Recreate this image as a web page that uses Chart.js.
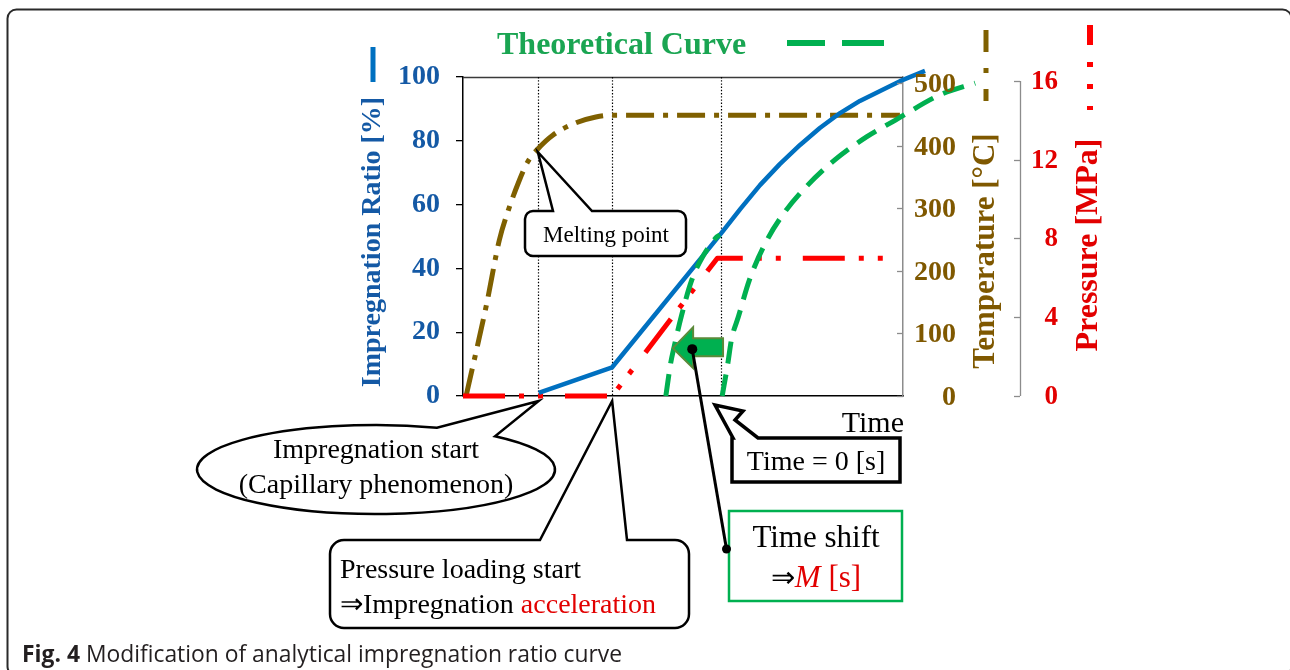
<!DOCTYPE html>
<html>
<head>
<meta charset="utf-8">
<title>Modification of analytical impregnation ratio curve</title>
<script src="https://cdn.jsdelivr.net/npm/chart.js@4.4.1/dist/chart.umd.min.js"></script>
<style>
  html, body { margin: 0; padding: 0; background: #fff; }
  canvas { display: block; }
</style>
</head>
<body>
<canvas id="fig" width="1290" height="670"></canvas>
<script>
// Time is in arbitrary units: 0–100 spans the plotting frame.
const impregTime  = [17.2, 33.9, 58.4, 63.0, 67.5, 72.0, 76.6, 81.1, 85.7, 90.2, 94.8, 99.3, 105.0];
const impregRatio = [1.0, 9.0, 50.5, 58.6, 66.1, 72.7, 78.7, 84.0, 88.7, 92.5, 95.6, 98.7, 101.9];

const tempTime    = [0.7, 5.4, 8.25, 10.3, 12.7, 14.75, 17.0, 20.4, 25.4, 30.2, 34.0, 99.3];
const temperature = [0, 148, 249, 297, 343, 375, 395, 417, 436, 446, 449, 449];

const pressTime = [0, 33.9, 57.8, 97.0];
const pressure  = [0, 0, 7, 7];

// Theoretical impregnation curve (starting at time = 0) and the same curve moved back by M
const theoryTime   = [58.9, 60.2, 61.0, 62.6, 65.1, 69.1, 73.2, 78.0, 84.5, 91.8, 98.3, 108.4, 116.4];
const theoryRatio  = [0, 10.3, 17.6, 24.9, 36.4, 48.9, 57.8, 65.6, 74.0, 81.3, 86.5, 94.4, 98.1];
const shiftedTime  = [46.1, 47.2, 48.0, 49.6, 52.0, 54.5, 57.7, 58.4];
const shiftedRatio = [0, 10.3, 15.5, 24.9, 36.4, 43.7, 49.9, 50.5];

const ratioTicks = [0, 20, 40, 60, 80, 100];
const tempTicks  = [0, 100, 200, 300, 400, 500];
const pressTicks = [0, 4, 8, 12, 16];

// melting point, pressure loading start, full pressure (time = 0)
const eventTimes = [17.0, 33.9, 58.6];

const SERIF = "'Liberation Serif', 'Times New Roman', serif";
const BLUE = '#0070C0', BLUE_TXT = '#1459A5';
const BROWN = '#7F6000', BROWN_TXT = '#7F5800';
const RED = '#FF0000', RED_TXT = '#E20000';
const GREEN = '#00B050', GREEN_TXT = '#1AA552';

const pts = (xs, ys) => xs.map((v, i) => ({ x: v, y: ys[i] }));
const fixTicks = list => scale => { scale.ticks = list.map(v => ({ value: v })); };

function vText(ctx, s, cx, cy, font, color) {
  ctx.save();
  ctx.translate(cx, cy);
  ctx.rotate(-Math.PI / 2);
  ctx.font = font; ctx.fillStyle = color;
  ctx.textAlign = 'center'; ctx.textBaseline = 'middle';
  ctx.fillText(s, 0, 0);
  ctx.restore();
}

function seg(ctx, x0, y0, x1, y1) {
  ctx.beginPath(); ctx.moveTo(x0, y0); ctx.lineTo(x1, y1); ctx.stroke();
}

// Box whose top edge opens into a pointer (wedge = points between the two base points)
function boxCallout(ctx, x0, y0, x1, y1, r, b1, wedge, b2) {
  ctx.beginPath();
  ctx.moveTo(x0 + r, y0);
  ctx.lineTo(b1, y0);
  wedge.forEach(p => ctx.lineTo(p[0], p[1]));
  ctx.lineTo(b2, y0);
  ctx.lineTo(x1 - r, y0);
  if (r) ctx.arcTo(x1, y0, x1, y0 + r, r);
  ctx.lineTo(x1, y1 - r);
  if (r) ctx.arcTo(x1, y1, x1 - r, y1, r);
  ctx.lineTo(x0 + r, y1);
  if (r) ctx.arcTo(x0, y1, x0, y1 - r, r);
  ctx.lineTo(x0, y0 + r);
  if (r) ctx.arcTo(x0, y0, x0 + r, y0, r);
  ctx.closePath();
  ctx.fillStyle = '#fff';
  ctx.fill();
  ctx.stroke();
}

function ellipseCallout(ctx, cx, cy, rx, ry, b1x, b2x, tipX, tipY) {
  const a1 = -Math.acos((b1x - cx) / rx);
  const a2 = -Math.acos((b2x - cx) / rx);
  ctx.beginPath();
  ctx.ellipse(cx, cy, rx, ry, 0, a2, a1 + 2 * Math.PI);
  ctx.lineTo(tipX, tipY);
  ctx.closePath();
  ctx.fillStyle = '#fff';
  ctx.fill();
  ctx.stroke();
}

// Draws a run of differently styled pieces on one baseline
function runs(ctx, pieces, x, y, align) {
  const widths = pieces.map(p => { ctx.font = p.font; return ctx.measureText(p.text).width; });
  const total = widths.reduce((a, b) => a + b, 0);
  let cx = align === 'center' ? x - total / 2 : x;
  ctx.textAlign = 'left'; ctx.textBaseline = 'alphabetic';
  pieces.forEach((p, i) => {
    ctx.font = p.font; ctx.fillStyle = p.color;
    ctx.fillText(p.text, cx, y);
    cx += widths[i];
  });
}

// Right-hand axes: inward tick marks and right-aligned labels
function rightAxis(ctx, scale, values, labelRight, font, color, withLine) {
  ctx.strokeStyle = '#8c8c8c'; ctx.lineWidth = 1.3;
  if (withLine) {
    const top = scale.getPixelForValue(values[values.length - 1]);
    const bottom = scale.getPixelForValue(values[0]);
    seg(ctx, scale.left + 0.5, top, scale.left + 0.5, bottom);
  }
  ctx.font = font; ctx.fillStyle = color;
  ctx.textAlign = 'right'; ctx.textBaseline = 'middle';
  values.forEach(v => {
    const py = Math.round(scale.getPixelForValue(v)) + 0.5;
    seg(ctx, scale.left - 6, py, scale.left, py);
    ctx.fillText(String(v), labelRight, py + 1);
  });
}

const decorations = {
  id: 'decorations',
  beforeDatasetsDraw(chart) {
    const { ctx, chartArea: a, scales: { x } } = chart;
    ctx.save();
    // top edge of the plotting frame
    ctx.strokeStyle = '#3a3a3a'; ctx.lineWidth = 1.3;
    seg(ctx, a.left, a.top + 0.5, a.right, a.top + 0.5);
    // dotted event lines
    ctx.strokeStyle = '#000'; ctx.lineWidth = 1.2; ctx.setLineDash([1.4, 1.8]);
    eventTimes.forEach(t => {
      const px = Math.round(x.getPixelForValue(t)) + 0.5;
      seg(ctx, px, a.top, px, a.bottom);
    });
    ctx.restore();
  },
  afterDraw(chart) {
    const { ctx, chartArea: a, scales: { x, y, yT, yP } } = chart;
    ctx.save();

    rightAxis(ctx, yT, tempTicks, 956, `bold 28px ${SERIF}`, BROWN_TXT, false);
    rightAxis(ctx, yP, pressTicks, 1058, `bold 27px ${SERIF}`, RED_TXT, true);

    // axis titles
    vText(ctx, 'Impregnation Ratio [%]', 373, 242, `bold 28px ${SERIF}`, BLUE_TXT);
    vText(ctx, 'Temperature [°C]', 986, 251, `bold 31px ${SERIF}`, BROWN_TXT);
    vText(ctx, 'Pressure [MPa]', 1089, 245, `bold 32px ${SERIF}`, RED_TXT);
    ctx.font = `30px ${SERIF}`; ctx.fillStyle = '#000';
    ctx.textAlign = 'right'; ctx.textBaseline = 'alphabetic';
    ctx.fillText('Time', a.right + 1, 432);

    // legend keys drawn as short line samples
    ctx.lineCap = 'butt';
    ctx.strokeStyle = BLUE; ctx.lineWidth = 5;
    seg(ctx, 373, 47, 373, 82);
    ctx.strokeStyle = BROWN; ctx.setLineDash([22, 16, 5, 16]);
    seg(ctx, 986, 30, 986, 101);
    ctx.strokeStyle = RED; ctx.lineWidth = 6; ctx.setLineDash([20, 17, 5, 17, 5, 17]);
    seg(ctx, 1090, 25, 1090, 110);
    ctx.setLineDash([]);
    ctx.strokeStyle = GREEN; ctx.lineWidth = 6;
    seg(ctx, 787, 43, 825, 43);
    seg(ctx, 842, 43, 884, 43);
    ctx.font = `bold 32px ${SERIF}`; ctx.fillStyle = GREEN_TXT; ctx.textAlign = 'left';
    ctx.fillText('Theoretical Curve', 497, 54);

    // callouts
    ctx.strokeStyle = '#000'; ctx.lineJoin = 'miter';

    const meltX = x.getPixelForValue(tempTime[6]);
    const meltY = yT.getPixelForValue(temperature[6]) + 3;
    ctx.lineWidth = 2.5;
    boxCallout(ctx, 525, 211, 686, 256, 8, 553, [[meltX, meltY]], 592);
    ctx.font = `23px ${SERIF}`; ctx.fillStyle = '#000'; ctx.textAlign = 'center';
    ctx.fillText('Melting point', 606, 242);

    const startX = x.getPixelForValue(impregTime[0]);
    ellipseCallout(ctx, 376, 469.5, 179, 44.5, 437, 495, startX, y.getPixelForValue(0) + 5);
    ctx.font = `28px ${SERIF}`; ctx.fillStyle = '#000'; ctx.textAlign = 'center';
    ctx.fillText('Impregnation start', 376, 458);
    ctx.fillText('(Capillary phenomenon)', 376, 493);

    const loadX = x.getPixelForValue(pressTime[1]);
    boxCallout(ctx, 330, 540, 689, 628, 14, 540, [[loadX, y.getPixelForValue(0) + 5]], 627);
    runs(ctx, [{ text: 'Pressure loading start', font: `28px ${SERIF}`, color: '#000' }], 340, 578, 'left');
    runs(ctx, [
      { text: '\u21D2Impregnation ', font: `28px ${SERIF}`, color: '#000' },
      { text: 'acceleration', font: `28px ${SERIF}`, color: RED_TXT }
    ], 340, 613, 'left');

    ctx.lineWidth = 3.5;
    boxCallout(ctx, 732, 438, 900, 482, 0, 733, [[715, 405], [743, 411], [735, 420]], 758);
    ctx.font = `28px ${SERIF}`; ctx.fillStyle = '#000'; ctx.textAlign = 'center';
    ctx.fillText('Time = 0 [s]', 816, 470);

    ctx.strokeStyle = GREEN; ctx.lineWidth = 2.5;
    ctx.fillStyle = '#fff';
    ctx.beginPath(); ctx.rect(729, 511, 173, 90); ctx.fill(); ctx.stroke();
    ctx.font = `31px ${SERIF}`; ctx.fillStyle = '#000'; ctx.textAlign = 'center';
    ctx.fillText('Time shift', 816, 547);
    runs(ctx, [
      { text: '\u21D2', font: `29px ${SERIF}`, color: '#000' },
      { text: 'M', font: `italic 31px ${SERIF}`, color: RED_TXT },
      { text: ' [s]', font: `31px ${SERIF}`, color: RED_TXT }
    ], 816, 587, 'center');

    // block arrow marking the time shift
    const ay = y.getPixelForValue(15);
    const tipX = x.getPixelForValue(47.7), headX = x.getPixelForValue(52.3), tailX = x.getPixelForValue(59.1);
    ctx.beginPath();
    ctx.moveTo(tipX, ay);
    ctx.lineTo(headX, ay - 21);
    ctx.lineTo(headX, ay - 10);
    ctx.lineTo(tailX, ay - 10);
    ctx.lineTo(tailX, ay + 8);
    ctx.lineTo(headX, ay + 8);
    ctx.lineTo(headX, ay + 20);
    ctx.closePath();
    ctx.fillStyle = GREEN; ctx.fill();
    ctx.strokeStyle = '#5B8A3A'; ctx.lineWidth = 2; ctx.stroke();

    const dotX = x.getPixelForValue(52.1);
    ctx.strokeStyle = '#000'; ctx.lineWidth = 3;
    seg(ctx, dotX, ay + 1, 726.5, 549);
    ctx.fillStyle = '#000';
    ctx.beginPath(); ctx.arc(dotX, ay + 1, 5, 0, 2 * Math.PI); ctx.fill();
    ctx.beginPath(); ctx.arc(726.5, 549, 4.5, 0, 2 * Math.PI); ctx.fill();

    // figure caption
    const capBold = 'Fig. 4', capRest = ' Modification of analytical impregnation ratio curve';
    const family = "'Open Sans', 'Noto Sans', sans-serif";
    ctx.font = `bold 20px ${family}`; const wb = ctx.measureText(capBold).width;
    ctx.font = `20px ${family}`; const wr = ctx.measureText(capRest).width;
    const size = 20 * 600 / (wb + wr);
    runs(ctx, [
      { text: capBold, font: `bold ${size.toFixed(2)}px ${family}`, color: '#231F20' },
      { text: capRest, font: `${size.toFixed(2)}px ${family}`, color: '#231F20' }
    ], 22, 662, 'left');

    // outer panel
    ctx.strokeStyle = '#2a2a2a'; ctx.lineWidth = 2;
    ctx.beginPath();
    ctx.roundRect(7.5, 9.5, 1284, 666, 9);
    ctx.stroke();

    ctx.restore();
  }
};

new Chart(document.getElementById('fig'), {
  type: 'line',
  data: {
    datasets: [
      { label: 'Theoretical curve (shifted)', data: pts(shiftedTime, shiftedRatio), yAxisID: 'y',
        borderColor: GREEN, borderWidth: 5, borderDash: [22, 11], cubicInterpolationMode: 'monotone' },
      { label: 'Theoretical curve', data: pts(theoryTime, theoryRatio), yAxisID: 'y',
        borderColor: GREEN, borderWidth: 5, borderDash: [22, 11], cubicInterpolationMode: 'monotone' },
      { label: 'Impregnation ratio', data: pts(impregTime, impregRatio), yAxisID: 'y',
        borderColor: BLUE, borderWidth: 4.5, tension: 0 },
      { label: 'Pressure', data: pts(pressTime, pressure), yAxisID: 'yP',
        borderColor: RED, borderWidth: 5, borderDash: [42, 14, 5, 14, 5, 22], tension: 0 },
      { label: 'Temperature', data: pts(tempTime, temperature), yAxisID: 'yT',
        borderColor: BROWN, borderWidth: 5, borderDash: [28, 9, 5, 9], cubicInterpolationMode: 'monotone' }
    ]
  },
  options: {
    responsive: false,
    animation: false,
    devicePixelRatio: 1,
    layout: { padding: { top: 77, left: 0, right: 0, bottom: 0 } },
    elements: { point: { radius: 0, hoverRadius: 0 }, line: { fill: false, borderCapStyle: 'butt', borderJoinStyle: 'round' } },
    datasets: { line: { clip: false } },
    plugins: { legend: { display: false }, tooltip: { enabled: false }, title: { display: false } },
    scales: {
      x: {
        type: 'linear',
        // range fixed after the data limits so that curves running past the frame are still drawn
        afterDataLimits: s => { s.min = 0; s.max = 100; },
        ticks: { display: false },
        grid: { display: false },
        border: { color: '#000', width: 1.5 },
        afterFit: s => { s.height = 274; }
      },
      y: {
        position: 'left', min: 0, max: 100,
        afterBuildTicks: fixTicks(ratioTicks),
        ticks: { color: BLUE_TXT, padding: 16, font: { family: SERIF, weight: 'bold', size: 28 } },
        grid: { drawOnChartArea: false, drawTicks: true, tickLength: 7, color: '#000', lineWidth: 1.3 },
        border: { color: '#000', width: 1.5 },
        afterFit: s => { s.width = 463; }
      },
      yT: {
        position: 'right', min: 0, max: 510,
        afterBuildTicks: fixTicks(tempTicks),
        ticks: { display: false },
        grid: { drawOnChartArea: false, drawTicks: false },
        border: { color: '#8c8c8c', width: 1.5 },
        afterFit: s => { s.width = 117; }
      },
      yP: {
        position: 'right', min: 0, max: 16.2,
        afterBuildTicks: fixTicks(pressTicks),
        ticks: { display: false },
        grid: { display: false, drawOnChartArea: false, drawTicks: false },
        border: { display: false },
        afterFit: s => { s.width = 270; }
      }
    }
  },
  plugins: [decorations]
});
</script>
</body>
</html>
